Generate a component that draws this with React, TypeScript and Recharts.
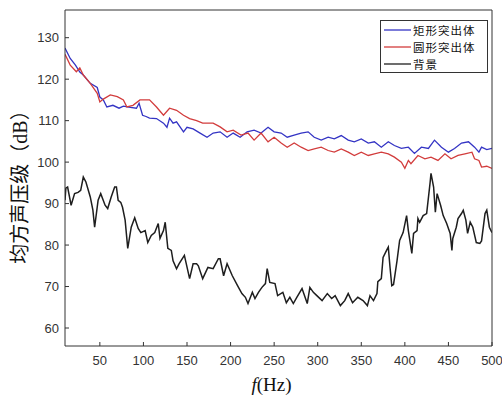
import React from 'react';
import { LineChart, Line, XAxis, YAxis, Legend, Label } from 'recharts';

// 矩形突出体 (blue)
const rectF = [10,16,22,27,31,39,47,50,54,58,65,72,77,85,92,95,99,103,107,115,123,127,130,134,138,146,150,157,165,173,180,188,196,203,211,219,227,235,243,250,258,265,273,281,289,296,304,312,319,327,335,342,350,358,365,373,381,388,396,404,411,419,427,434,442,450,457,465,473,480,485,488,494,500];
const rectDb = [127.5,125,123.4,121.7,121,119,118,115.7,115,113.3,113.7,113,113.5,113.2,113,114.2,111.3,111,110.6,110.5,109.4,108.4,110.6,109.4,109.7,107.3,108.4,108,107,106,107,107.3,106,107,106,107.3,107.7,107,108.4,107.3,107,106,106.5,107,107.3,106,105.3,106,105.6,106.4,105.3,104.9,105.6,104.6,104.9,103.6,104.9,104,103.3,103.6,102.1,103.6,103.3,105.3,103.6,102.4,103.3,104.6,104.9,103.6,102.4,103.6,103,103.3];

// 圆形突出体 (red)
const circF = [10,16,23,27,31,39,47,50,54,62,70,77,81,88,96,107,115,123,130,138,146,153,161,168,180,188,196,203,212,220,227,235,243,250,258,265,273,281,289,296,304,312,319,327,335,342,350,358,365,373,381,388,396,400,404,407,415,423,430,438,446,453,461,469,477,480,485,488,494,500];
const circDb = [126,123.4,121.8,122.7,121,119,116.6,114.5,115.2,116.2,115.8,115,113.3,113.7,115,115,113.3,111.3,113,112.5,111.3,110.5,110,109.4,109.4,108.5,107.3,107.7,106.5,107,105.3,107,104.9,106,104.6,103.6,104.6,103.6,102.8,103.2,103.6,102.8,102.4,103.2,102.4,101.6,102.4,101.6,102,102.4,102,101.2,100,98.5,100.4,99.6,101.6,100.8,101.2,100.4,102,100.8,101.6,102,102.4,100.8,100.4,98.8,99,98.5];

// 背景 (black)
const bgF = [10,11,13,17,21,25,28,31,34,39,42,44,48,51,56,59,63,67,69,71,74,76,79,82,86,90,94,97,102,105,109,113,117,119,123,125,128,132,134,138,141,147,153,157,161,163,168,174,180,186,188,192,196,202,208,213,217,220,225,228,232,236,240,242,245,251,254,260,264,268,272,276,282,288,291,295,299,305,311,316,320,326,331,335,340,346,352,357,360,364,368,369,373,375,379,381,383,385,387,391,394,398,402,404,408,410,414,415,417,421,425,429,430,433,435,437,441,444,448,452,454,455,459,461,465,467,470,472,475,478,482,486,488,492,494,497,500];
const bgDb = [90.8,93.7,94,89.6,92.4,92.7,93.2,96.4,95.2,91.6,88.4,84.3,90.8,92.4,89.6,88.8,91.6,94,94,90.8,90.3,89.1,86,79.2,84.3,86.6,84,83,83.5,80.6,82.3,83,85.2,81.6,83.5,85.5,79.2,78.7,76.2,74.3,75.5,77.5,71.9,75.5,75.5,75,71.9,74.6,74.3,76.7,76.7,72.6,75.5,72.6,70.2,68.3,67.4,65.9,68.6,67.1,68.6,69.8,70.7,74.3,71,70.7,67.8,68.6,66.1,67.4,65.9,67.4,69.5,65.9,69.8,68.6,67.8,66.6,68.3,67.1,67.8,65.4,66.6,68.3,66.1,67.4,66.6,65.4,67.8,66.6,68.3,71.2,71.9,77,78.7,79.5,74.6,70.2,70.5,76.2,81.1,83,87.1,83.5,78,82.8,83.5,86.4,85.5,87.1,87.6,95.1,97.3,94,87.9,92.4,89.6,87.1,85.2,82.8,78.7,81.6,84.3,86.4,87.6,88.4,86,82.8,85.5,84.3,80.6,80.4,81,87.6,88.4,84.3,83];

const xTicks = [50,100,150,200,250,300,350,400,450,500];
const yTicks = [60,70,80,90,100,110,120,130];
const xDomain = [10, 500];
const yDomain = [55.66, 136.68];

const toRows = (f: number[], v: number[]) => f.map((x, i) => ({ f: x, db: v[i] }));

const series = [
  { name: '矩形突出体', color: '#3434c4', data: toRows(rectF, rectDb), width: 1.3 },
  { name: '圆形突出体', color: '#d23c3c', data: toRows(circF, circDb), width: 1.3 },
  { name: '背景', color: '#1e1e1e', data: toRows(bgF, bgDb), width: 1.5 },
];

const axisColor = '#333';
const tickStyle = { fontSize: 13, fill: '#333', fontFamily: 'Liberation Sans, Arial, sans-serif' };

const renderLegend = (props: any) => {
  const payload = [...(props.payload || [])];
  const order = series.map((s) => s.name);
  payload.sort((a: any, b: any) => order.indexOf(a.value) - order.indexOf(b.value));
  return (
    <div style={{ border: '1px solid #333', background: '#fff', width: 108, height: 53, boxSizing: 'border-box', paddingTop: 1 }}>
      {payload.map((p: any) => (
        <div key={p.value} style={{ display: 'flex', alignItems: 'center', height: 16.7 }}>
          <svg width={32} height={10} style={{ display: 'block' }}>
            <line x1={3} x2={30} y1={5} y2={5} stroke={p.color} strokeWidth={1.3} />
          </svg>
          <span style={{ fontSize: 11.5, lineHeight: '16px', color: '#111', fontFamily: '"Noto Sans CJK SC", sans-serif', letterSpacing: 1 }}>{p.value}</span>
        </div>
      ))}
    </div>
  );
};

const YTitle = (props: any) => {
  const vb = props.viewBox || { x: 0, y: 0, width: 0, height: 0 };
  const cx = 20;
  const cy = vb.y + vb.height / 2 + 4;
  return (
    <text x={cx} y={cy} transform={`rotate(-90 ${cx} ${cy})`} textAnchor="middle" dominantBaseline="central"
      fontSize={20} fill="#111" fontFamily='"Liberation Serif", "Noto Sans CJK SC", serif'>
      均方声压级（dB）
    </text>
  );
};

const XTitle = (props: any) => {
  const vb = props.viewBox || { x: 0, y: 0, width: 0, height: 0 };
  const cx = vb.x + vb.width / 2 - 7;
  return (
    <text x={cx} y={vb.y + 45} textAnchor="middle" fontSize={19} fill="#111" fontFamily='"Liberation Serif", serif'>
      <tspan fontStyle="italic">f</tspan>(Hz)
    </text>
  );
};

export default function App() {
  return (
    <div style={{ position: 'absolute', left: 0, top: 0, width: 502, height: 399, background: '#fff' }}>
      <LineChart width={502} height={399} margin={{ top: 9, right: 9, bottom: 0, left: 0 }}>
        <XAxis xAxisId={0} dataKey="f" type="number" domain={xDomain} ticks={xTicks} allowDataOverflow
          height={53} stroke={axisColor} tickSize={-4} tickMargin={14} tick={tickStyle}>
          <Label content={<XTitle />} />
        </XAxis>
        <XAxis xAxisId="top" orientation="top" dataKey="f" type="number" domain={xDomain} ticks={xTicks} allowDataOverflow
          height={1} stroke={axisColor} tickSize={-4} tick={false} />
        <YAxis yAxisId={0} type="number" domain={yDomain} ticks={yTicks} allowDataOverflow
          width={65} stroke={axisColor} tickSize={-4} tickMargin={10} tick={tickStyle}>
          <Label content={<YTitle />} />
        </YAxis>
        <YAxis yAxisId="right" orientation="right" type="number" domain={yDomain} ticks={yTicks} allowDataOverflow
          width={1} stroke={axisColor} tickSize={-4} tick={false} />
        {series.map((s) => (
          <Line key={s.name} xAxisId={0} yAxisId={0} data={s.data} dataKey="db" name={s.name} type="linear"
            stroke={s.color} strokeWidth={s.width} dot={false} activeDot={false} isAnimationActive={false} />
        ))}
        <Legend layout="vertical" align="center" verticalAlign="middle" content={renderLegend}
          wrapperStyle={{ position: 'absolute', left: 380, top: 20, width: 108, height: 53 }} />
      </LineChart>
    </div>
  );
}
